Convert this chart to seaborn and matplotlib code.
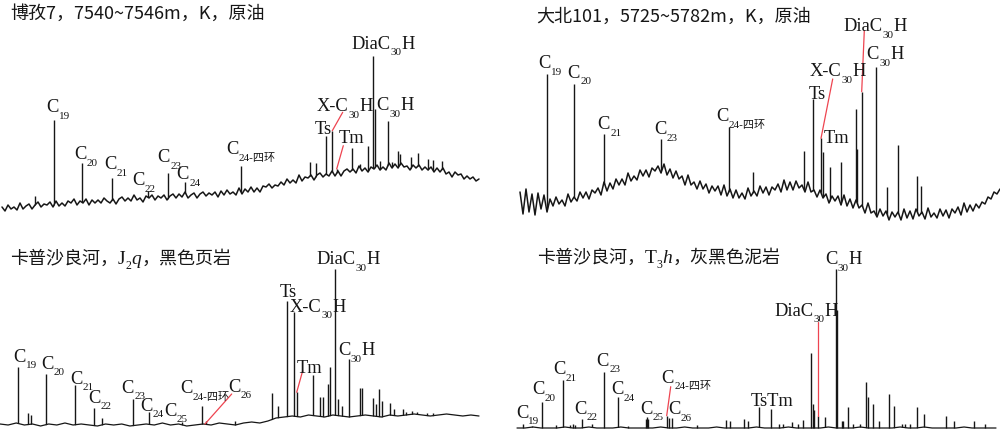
import matplotlib
matplotlib.use("Agg")
import matplotlib.pyplot as plt
import seaborn as sns
import numpy as np

sns.set_theme(style="white")
plt.rcParams["font.family"] = ["Liberation Serif", "Noto Sans CJK SC"]

SERIF = ["Liberation Serif", "Noto Sans CJK SC"]
CJK = ["Noto Sans CJK SC", "DejaVu Sans"]
INK = "#161616"
RED = "#ee4450"

# ---------------- data (local panel units: x = retention position, y = signal) --------
# Panel 1: 博孜7 crude oil
p1_base_range = (2, 479)
p1_base = [17, 13, 19, 15, 17, 14, 21, 15, 18, 20, 15, 19, 22, 17, 20, 19, 22, 17,
           23, 18, 21, 18, 23, 21, 25, 19, 23, 21, 25, 19, 24, 21, 24, 21, 26, 23,
           21, 25, 20, 25, 27, 23, 26, 23, 29, 24, 26, 22, 28, 26, 29, 24, 28, 26, 29,
           24, 28, 30, 26, 30, 27, 32, 26, 29, 31, 26, 30, 32, 28, 31, 29, 32, 27, 33, 29, 34, 30, 32, 29, 36,
           30, 35, 32, 37, 32, 36, 32, 38, 37, 40, 36, 39, 38,
           42, 39, 45, 41, 44, 41, 49, 43, 47, 46,
           49, 44, 49, 51, 47, 50, 48, 53,
           48, 53, 48, 53, 55, 52, 55, 51, 58, 53, 56, 52,
           57, 55, 59, 54, 57, 54, 61, 56, 60, 56,
           61, 57, 58, 54, 59, 56, 59, 54, 57, 54, 57,
           52, 56, 52, 56, 50, 52, 47, 52, 49,
           50, 45, 48, 45, 47, 43, 45]
p1_peak_x = [35, 53.5, 82.3, 111.7, 148, 168.3, 185, 240.7, 310, 316, 326, 332.3, 336.7,
             352.3, 360, 368.3, 373.3, 375, 380, 388.3, 392, 398.3, 400, 411, 418.3, 428, 433, 441.7]
p1_peak_y = [28, 104.3, 61, 46, 33, 50.7, 42.3, 58.3, 62, 61, 88.3, 93.3, 55,
             76, 60, 78.3, 167.7, 115, 63, 103.3, 62, 73.3, 70, 67, 71, 65, 64, 63.3]

# Panel 2: 大北101 crude oil
p2_base_range = (20, 500)
p2_base = [32, 10, 35, 12, 30, 9, 31, 15, 29, 12,
           25, 18, 27, 20, 24, 18, 30, 22, 27, 23, 32, 26, 32, 25, 34, 31, 36, 29, 42, 33,
           41, 35, 45, 39, 45, 39, 51, 43, 48, 44, 54, 48, 54, 47, 56, 53, 58, 51, 60, 49,
           55, 46, 53, 45, 48, 39, 49, 39, 42, 35, 43, 35, 40, 31, 38, 33, 38, 29, 39, 28,
           35, 26, 34, 26, 31, 25, 36, 28, 33, 28, 38, 31, 37, 29, 37, 34, 40, 32, 44, 34,
           42, 34, 43, 36, 39, 32, 42, 32, 34, 27, 34, 26, 30, 21, 28, 23, 28, 19, 29, 18,
           25, 16, 24, 16, 19, 11, 21, 11, 13, 7, 15, 8, 13, 4, 12, 7, 12, 4, 15, 6,
           13, 5, 15, 8, 12, 5, 16, 7, 11, 6, 15, 8, 14, 6, 15, 11, 17, 9, 21, 12,
           19, 13, 20, 16, 22, 20, 27, 25, 32, 30, 35]
p2_peak_x = [46.7, 74, 104, 161, 229, 252.7, 304.3, 313.3, 321, 322.7, 330, 340.7,
             355.7, 357.3, 361.7, 376, 386.7, 398.3, 416.7, 420.7]
p2_peak_y = [150, 140, 90, 85, 96.7, 52, 73.3, 125, 85.7, 72, 57, 62.3,
             115, 75, 132.3, 156.7, 37, 79.3, 48.3, 38]

# Panel 3: 卡普沙良河 J2q black shale
p3_base_range = (0, 479)
p3_base = [6, 5, 7, 5, 6, 4, 6, 5, 7, 5, 6, 5, 4, 6, 5, 6, 4, 5, 6, 5, 7, 5, 6, 4, 5, 6, 5, 7, 6, 5, 7,
           8, 7, 9, 12, 13,
           14, 13, 15, 14, 13, 15, 14, 13, 14, 15, 14, 13, 15, 14, 15, 16, 15, 14, 15, 16, 15, 14, 15, 14]
p3_peak_x = [18.3, 28.3, 31, 46, 75.3, 94.3, 102, 132.7, 148.7, 181.7, 201.7, 206, 235,
             272.3, 277.7, 287, 294, 296.7, 313.3, 320, 322.7, 328.3, 330, 334.7, 338.3, 341.7,
             349, 360, 361.7, 372.7, 375.7, 379.3, 381.7, 390, 394.3, 403.3, 406, 411.7, 416.7,
             426.7, 433.3]
p3_peak_y = [63.3, 16.7, 15.3, 56, 45, 21.7, 11.7, 31, 17.7, 8, 24.3, 9, 9.3,
             36.7, 24.3, 129.3, 117.7, 37.7, 55.3, 33.3, 32.7, 46, 62.7, 161, 31, 24.3,
             71, 42, 42, 31.7, 26, 41, 29, 26.7, 21, 20.7, 18.3, 19, 18,
             17, 17]

# Panel 4: 卡普沙良河 T3h grey-black mudstone
p4_base_range = (17, 496)
p4_base = [2, 2, 3, 2, 2, 2, 3, 2, 2, 3, 2, 2, 2, 3, 2, 2, 2, 2, 3, 2, 2, 3, 2, 2, 2, 3, 2, 2, 2, 2,
           3, 2, 2, 2, 3, 2, 2, 2, 2, 3, 2, 2, 2, 3, 2, 2, 2, 2, 3, 2, 2, 3, 2, 2, 2, 2, 3, 2, 2, 2, 2]
p4_peak_x = [22.7, 31.7, 42.3, 56, 63.3, 70, 73, 75, 81.7, 91.7, 104.3, 117.7, 128.3,
             145.7, 146.7, 147.7, 166.7, 169.3, 171.7, 196.7, 226, 230, 244, 248.3,
             259.3, 271, 279.3, 282.7, 291.7, 297.7, 303.3, 311, 312.7, 314, 318.3, 325,
             336, 337.3, 341.7, 343.3, 347.7, 353.3, 360, 365.7, 368.3, 372.7, 379.3,
             389.3, 394.3, 401.7, 405, 410, 416.7, 424, 445.7, 454, 474, 485]
p4_peak_y = [6, 4.3, 27.7, 5, 50, 5, 6, 5, 11, 6, 57.7, 32.7, 4.3,
             11, 12.7, 11, 14.3, 12, 12, 5, 10, 9.3, 11, 8.7,
             22.7, 21, 6, 6.3, 8, 6.3, 10, 76.7, 26, 20, 14.3, 12.7,
             161, 120, 9, 9, 22.7, 6, 6, 47.7, 32.7, 26, 9.3,
             36, 24.3, 6, 6, 6, 23.3, 16, 14.3, 9.3, 9.3, 6]

# Labels: (x_left, y_baseline, "normal|sub|normal...")
p1_labels = [(46.7, 113, "C|19"), (74, 66, "C|20"), (104, 56, "C|21"), (132.3, 39.7, "C|22"),
             (157.7, 63, "C|23"), (176.7, 45.7, "C|24"), (226, 70.7, "C|24-四环"),
             (315, 91.3, "Ts"), (316.7, 114, "X-C|30|H"), (339, 82.3, "Tm"),
             (351.7, 176.3, "DiaC|30|H"), (376.7, 114.7, "C|30|H")]
p2_labels = [(38.3, 156.7, "C|19"), (67.7, 147.3, "C|20"), (97.7, 95.7, "C|21"),
             (154, 90.7, "C|23"), (216, 104, "C|24-四环"), (310, 149, "X-C|30|H"),
             (308.3, 125.7, "Ts"), (323.3, 82.3, "Tm"), (343.3, 194, "DiaC|30|H"),
             (366.7, 165.7, "C|30|H")]
p3_labels = [(13.3, 69.3, "C|19"), (41, 62.3, "C|20"), (70, 47.3, "C|21"), (88.3, 28.3, "C|22"),
             (121.7, 38.3, "C|23"), (140, 20, "C|24"), (164.3, 15, "C|25"),
             (180, 37.7, "C|24-四环"), (228.3, 39.3, "C|26"), (279.3, 134.3, "Ts"),
             (290, 119, "X-C|30|H"), (296.7, 58.3, "Tm"), (316.7, 166.7, "DiaC|30|H"),
             (338.3, 76, "C|30|H")]
p4_labels = [(16, 13.3, "C|19"), (32.3, 36.7, "C|20"), (53.3, 56.7, "C|21"), (74, 17.3, "C|22"),
             (96.7, 65, "C|23"), (111, 36.7, "C|24"), (140, 17.3, "C|25"),
             (161.7, 48.3, "C|24-四环"), (168.3, 16.7, "C|26"), (250.7, 25, "TsTm"),
             (274, 115, "DiaC|30|H"), (325, 166.7, "C|30|H")]

# Leader lines: (x_label, y_label, x_peak, y_peak)
p1_leaders = [(342.7, 111.7, 332.3, 93.3), (343.3, 78.3, 336.7, 55)]
p2_leaders = [(332.7, 145, 321, 85.7), (364.3, 193.3, 361.7, 132.3)]
p3_leaders = [(231.7, 36, 205, 6), (302.7, 59.3, 296.7, 37.7)]
p4_leaders = [(170.7, 43.3, 166.7, 14.3), (318.3, 107.7, 318.3, 14.3)]

# Titles: (x_left, y_baseline, pieces)
p1_title = (10, 206.5, [("博孜7，7540~7546m，K，原油", "c")])
p2_title = (36.7, 203.5, [("大北101，5725~5782m，K，原油", "c")])
p3_title = (10, 167.2, [("卡普沙良河，", "c"), ("J", "t"), ("2", "ts"), ("q", "ti"), ("，黑色页岩", "c")])
p4_title = (36.7, 167.8, [("卡普沙良河，", "c"), ("T", "t"), ("3", "ts"), ("h", "ti"), ("，灰黑色泥岩", "c")])

# ---------------- drawing ----------------
W, H = 1000, 431
fig = plt.figure(figsize=(W / 100, H / 100), dpi=100)
fig.patch.set_facecolor("white")
axes = [fig.add_axes([0, 206 / H, 0.5, 225 / H]),
        fig.add_axes([0.5, 206 / H, 0.5, 225 / H]),
        fig.add_axes([0, 0, 0.5, 206 / H]),
        fig.add_axes([0.5, 0, 0.5, 206 / H])]
heights = [225, 225, 206, 206]
renderer = fig.canvas.get_renderer()

LABEL_SIZE = 13.3
TITLE_SIZE = 13


def rich(ax, x, y, pieces):
    dx, dy = ax.transData.transform((x, y))
    for txt, kind in pieces:
        fam, fs, st, off = SERIF, LABEL_SIZE, "normal", 0
        if kind == "s":
            fs, off = LABEL_SIZE * 0.6, -6.5
        elif kind == "c":
            fam, fs = CJK, TITLE_SIZE
        elif kind == "t":
            fs = 14
        elif kind == "ts":
            fs, off = 8.5, -5
        elif kind == "ti":
            fs, st = 14, "italic"
        t = fig.text(dx / W, (dy + off) / H, txt, family=fam, fontsize=fs, style=st,
                     color=INK, ha="left", va="baseline", zorder=10)
        dx = t.get_window_extent(renderer).x1


def spec_pieces(spec):
    return [(s, "n" if i % 2 == 0 else "s") for i, s in enumerate(spec.split("|")) if s]


panels = [
    (p1_base_range, p1_base, p1_peak_x, p1_peak_y, p1_labels, p1_leaders, p1_title, 1.1),
    (p2_base_range, p2_base, p2_peak_x, p2_peak_y, p2_labels, p2_leaders, p2_title, 1.1),
    (p3_base_range, p3_base, p3_peak_x, p3_peak_y, p3_labels, p3_leaders, p3_title, 0.9),
    (p4_base_range, p4_base, p4_peak_x, p4_peak_y, p4_labels, p4_leaders, p4_title, 0.9),
]

for ax, hgt, (brange, base, pkx, pky, labels, leaders, title, lw) in zip(axes, heights, panels):
    ax.set_xlim(0, 500)
    ax.set_ylim(0, hgt)
    bx = np.linspace(brange[0], brange[1], len(base))
    by = np.array(base, dtype=float)
    ax.vlines(pkx, 0, pky, color=INK, lw=1.0, zorder=1)
    ax.fill_between(bx, 0, by, color="white", lw=0, zorder=2)
    sns.lineplot(x=bx, y=by, ax=ax, color=INK, lw=lw, zorder=3, sort=False)
    for (x0, y0, x1, y1) in leaders:
        ax.plot([x0, x1], [y0, y1], color=RED, lw=0.9, zorder=4)
    for (lx, ly, spec) in labels:
        rich(ax, lx, ly, spec_pieces(spec))
    rich(ax, title[0], title[1], title[2])
    ax.set_axis_off()

fig.savefig("out.png", dpi=100, facecolor="white")
